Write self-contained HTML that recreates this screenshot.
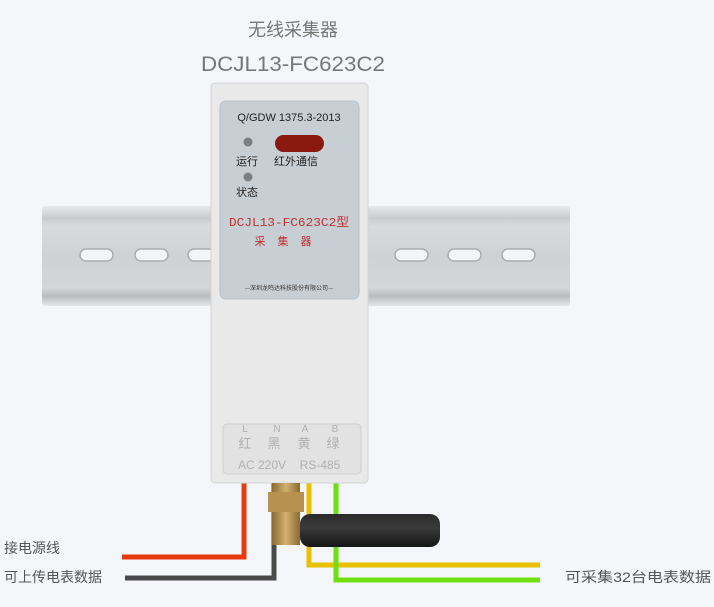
<!DOCTYPE html>
<html><head><meta charset="utf-8"><style>
html,body{margin:0;padding:0;width:714px;height:607px;overflow:hidden;background:#f5f6fa}
svg{display:block}
</style></head><body>
<svg width="714" height="607" viewBox="0 0 714 607" xmlns="http://www.w3.org/2000/svg">
<defs>
<linearGradient id="rail" x1="0" y1="0" x2="0" y2="1">
<stop offset="0" stop-color="#e6e8ea"/><stop offset="0.12" stop-color="#c9ccce"/><stop offset="0.2" stop-color="#d8dadc"/><stop offset="0.5" stop-color="#cfd1d3"/><stop offset="0.82" stop-color="#d4d6d8"/><stop offset="0.9" stop-color="#b9bcbe"/><stop offset="1" stop-color="#e4e6e8"/>
</linearGradient>
<linearGradient id="ant" x1="0" y1="0" x2="0" y2="1">
<stop offset="0" stop-color="#2a2a2a"/><stop offset="0.4" stop-color="#3a3a3a"/><stop offset="1" stop-color="#151515"/>
</linearGradient>
<linearGradient id="brass" x1="0" y1="0" x2="1" y2="0">
<stop offset="0" stop-color="#8a6a30"/><stop offset="0.5" stop-color="#d4b070"/><stop offset="1" stop-color="#8a6a30"/>
</linearGradient>
</defs>
<text x="293" y="36" font-family="Liberation Sans, Noto Sans CJK SC, sans-serif" font-size="18" fill="#777" text-anchor="middle">无线采集器</text>
<text x="293" y="71" font-family="Liberation Sans, sans-serif" font-size="21" fill="#777" text-anchor="middle" textLength="184" lengthAdjust="spacingAndGlyphs">DCJL13-FC623C2</text>

<rect x="42" y="206" width="528" height="100" rx="4" fill="url(#rail)"/>
<g fill="#f4f5f6" stroke="#a9acae" stroke-width="1.5">
<rect x="80" y="249" width="33" height="12" rx="6"/>
<rect x="135" y="249" width="33" height="12" rx="6"/>
<rect x="188" y="249" width="33" height="12" rx="6"/>
<rect x="395" y="249" width="33" height="12" rx="6"/>
<rect x="448" y="249" width="33" height="12" rx="6"/>
<rect x="502" y="249" width="33" height="12" rx="6"/>
</g>

<g fill="none" stroke-width="5" stroke-linejoin="miter">
<polyline points="244,480 244,557 122,557" stroke="#e63a10"/>
<polyline points="274,480 274,578 125,578" stroke="#4a4a4a"/>
<polyline points="309,480 309,565 540,565" stroke="#e8c000"/>
<polyline points="336,480 336,580 540,580" stroke="#6ee010"/>
</g>

<rect x="211" y="83" width="157" height="400" rx="4" fill="#e9e9e9" stroke="#d4d4d4"/>
<rect x="220" y="101" width="139" height="198" rx="6" fill="#c8cfd4" stroke="#b8bec2"/>
<text x="289" y="121" font-family="Liberation Sans, sans-serif" font-size="11" fill="#222" text-anchor="middle">Q/GDW  1375.3-2013</text>
<circle cx="248" cy="142" r="4.5" fill="#7a7f82"/>
<circle cx="248" cy="177" r="4.5" fill="#7a7f82"/>
<rect x="275" y="135" width="49" height="17" rx="8.5" fill="#8a1a10"/>
<text x="236" y="165" font-family="Noto Sans CJK SC, sans-serif" font-size="11" fill="#222">运行</text>
<text x="274" y="165" font-family="Noto Sans CJK SC, sans-serif" font-size="11" fill="#222">红外通信</text>
<text x="236" y="196" font-family="Noto Sans CJK SC, sans-serif" font-size="11" fill="#222">状态</text>
<text x="289" y="226" font-family="Liberation Mono, monospace" font-size="12" fill="#c03030" text-anchor="middle" textLength="120" lengthAdjust="spacingAndGlyphs">DCJL13-FC623C2型</text>
<text x="289" y="245" font-family="Noto Sans CJK SC, sans-serif" font-size="11" fill="#c03030" text-anchor="middle" letter-spacing="12">采集器</text>
<text x="289" y="290" font-family="Noto Sans CJK SC, sans-serif" font-size="6" fill="#333" text-anchor="middle">—深圳龙鸣达科技股份有限公司—</text>

<rect x="223" y="424" width="138" height="50" rx="4" fill="#e2e2e2" stroke="#cfcfcf"/>
<g font-family="Liberation Sans, Noto Sans CJK SC, sans-serif" font-size="10" fill="#b0b0b0" text-anchor="middle">
<text x="245" y="432">L</text><text x="277" y="432">N</text><text x="305" y="432">A</text><text x="335" y="432">B</text>
<text x="245" y="448" font-size="13">红</text><text x="274" y="448" font-size="13">黑</text><text x="304" y="448" font-size="13">黄</text><text x="333" y="448" font-size="13">绿</text>
<text x="262" y="469" font-size="12">AC 220V</text><text x="320" y="469" font-size="12">RS-485</text>
</g>

<rect x="300" y="514" width="140" height="33" rx="10" fill="url(#ant)"/>
<rect x="272" y="483" width="28" height="62" fill="url(#brass)"/>
<rect x="268" y="492" width="36" height="20" fill="#b89050"/>

<g font-family="Liberation Sans, Noto Sans CJK SC, sans-serif" font-size="14" fill="#555">
<text x="4" y="553">接电源线</text>
<text x="4" y="582">可上传电表数据</text>
<text x="565" y="582" textLength="146" lengthAdjust="spacingAndGlyphs">可采集32台电表数据</text>
</g>
</svg>
</body></html>
